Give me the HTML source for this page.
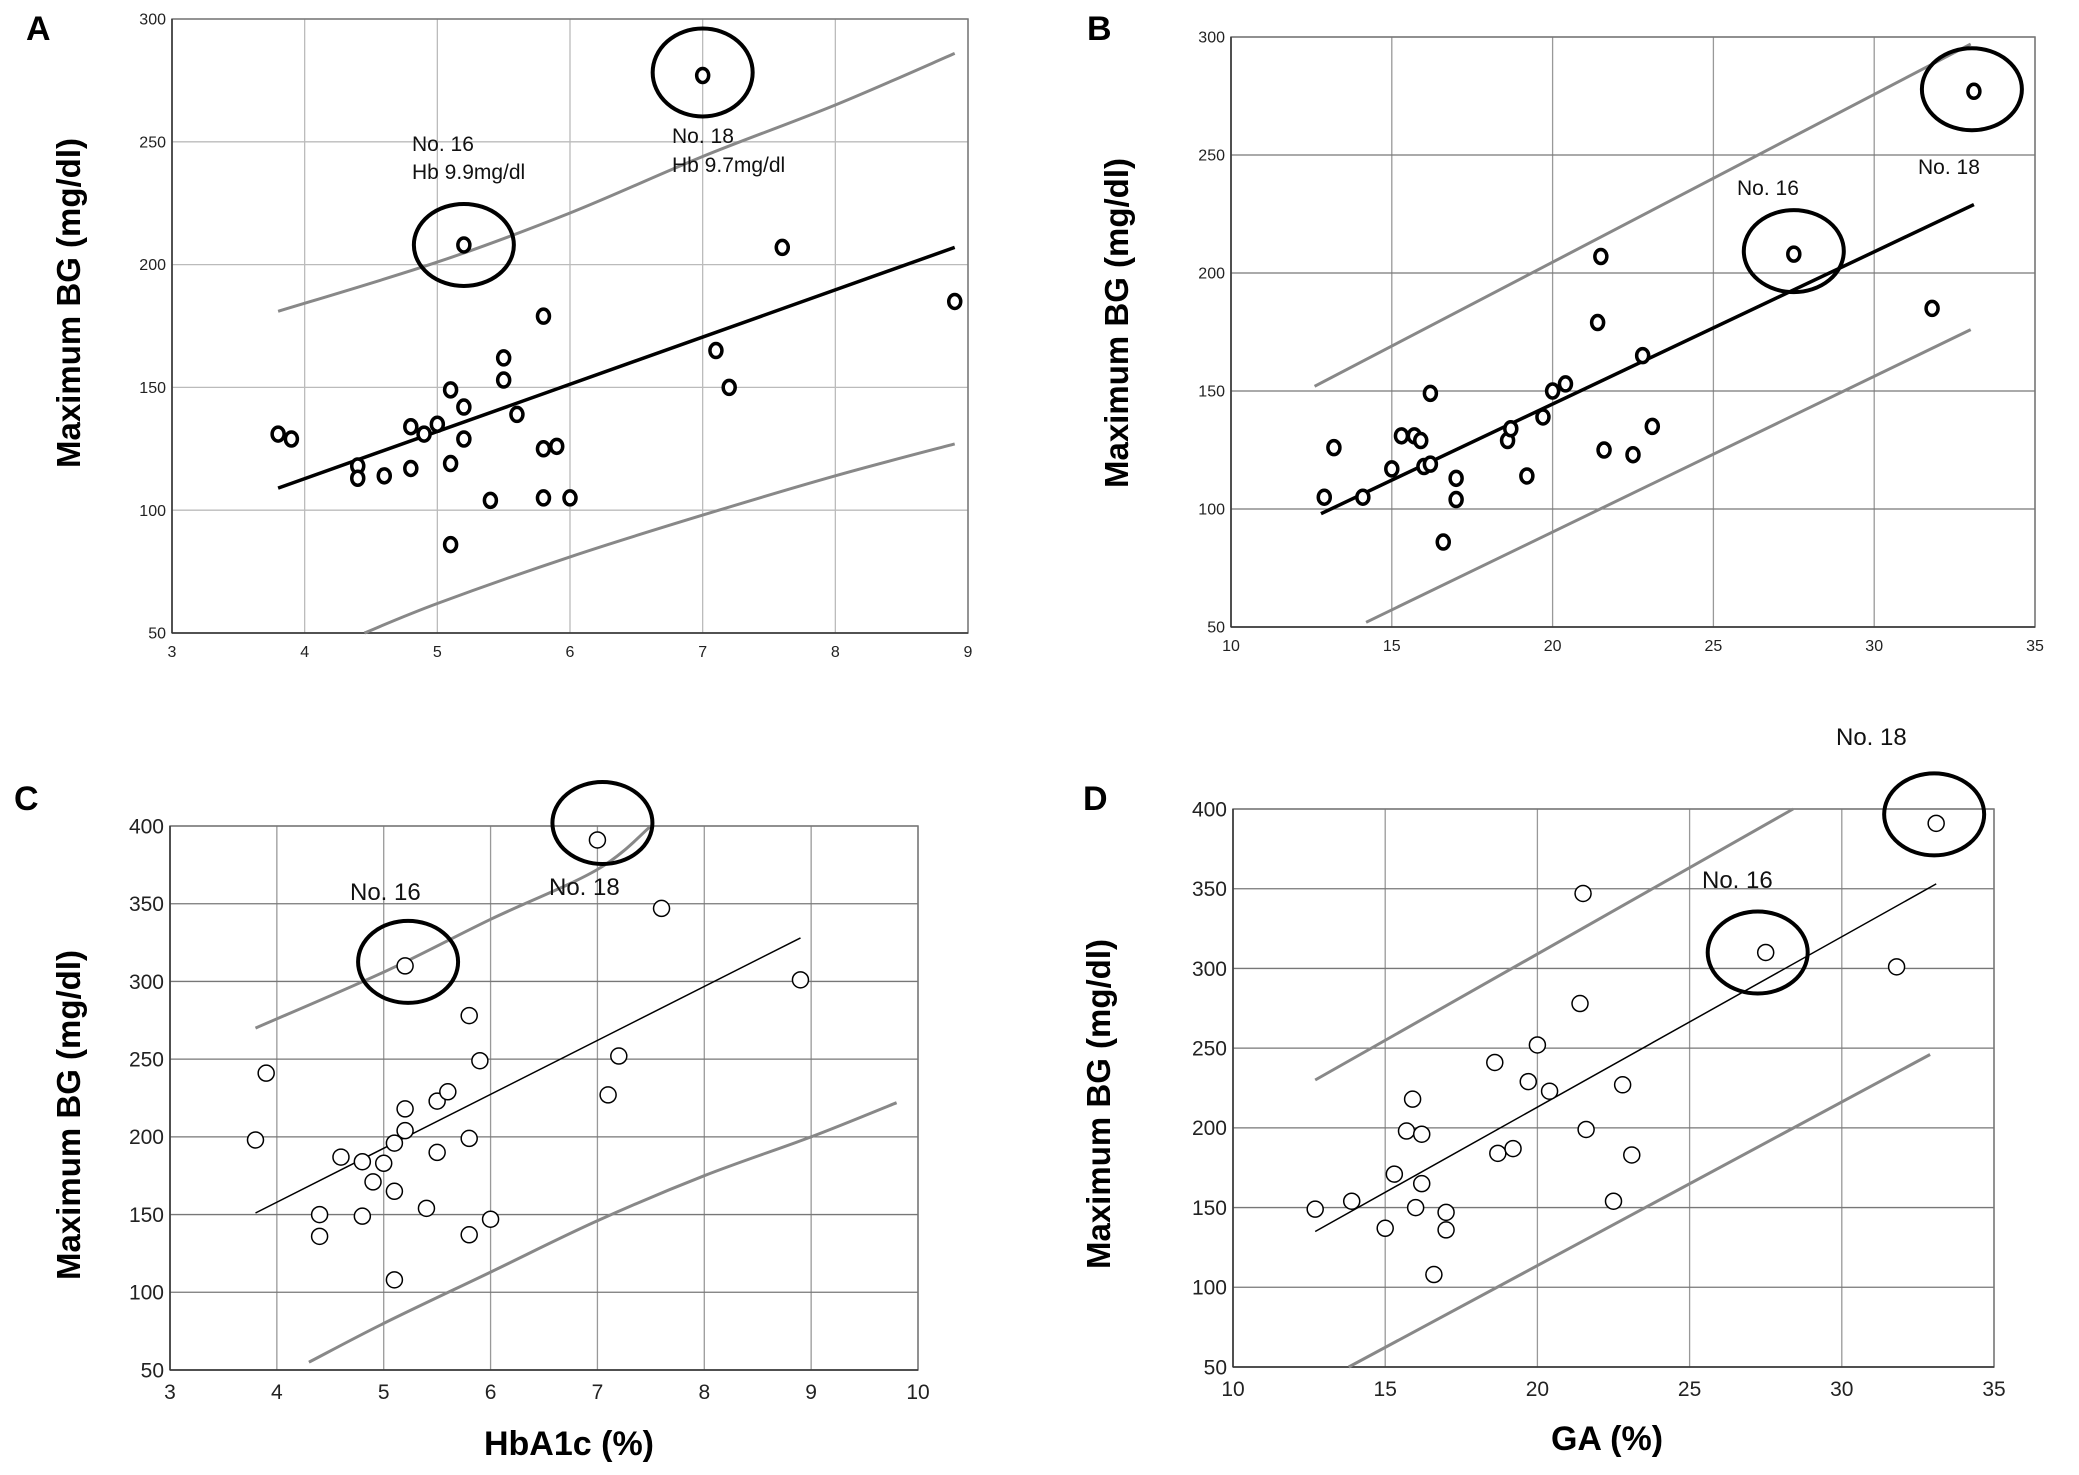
<!DOCTYPE html>
<html><head><meta charset="utf-8"><style>
html,body{margin:0;padding:0;background:#fff;}
svg{display:block;font-family:"Liberation Sans",sans-serif;}
</style></head><body>
<svg id="fig" width="2079" height="1475" viewBox="0 0 2079 1475" xmlns="http://www.w3.org/2000/svg"></svg>
<script>
// Panel A: HbA1c vs max BG (Hb-corrected)
const aX = [3.8,3.9,4.4,4.4,4.6,4.8,4.8,4.9,5.0,5.1,5.1,5.1,5.2,5.2,5.2,5.4,5.5,5.5,5.6,5.8,5.8,5.8,5.9,6.0,7.0,7.1,7.2,7.6,8.9];
const aY = [131,129,118,113,114,134,117,131,135,149,119,86,142,129,208,104,162,153,139,179,125,105,126,105,277,165,150,207,185];
const aFit = [[3.8,109],[8.9,207]];
const aUpper = [[3.8,181],[5,201],[6,221],[7,244],[8,265],[8.9,286]];
const aLower = [[4.45,50],[5,62],[6,81],[7,98],[8,114],[8.9,127]];
const aXTicks = [3,4,5,6,7,8,9];
const aYTicks = [50,100,150,200,250,300];
// Panel B: GA vs max BG
const bX = [12.9,13.2,14.1,15.0,15.3,15.7,15.9,16.0,16.2,16.2,16.6,17.0,17.0,18.6,18.7,19.2,19.7,20.0,20.4,21.4,21.5,21.6,22.5,22.8,23.1,27.5,31.8,33.1];
const bY = [105,126,105,117,131,131,129,118,119,149,86,113,104,129,134,114,139,150,153,179,207,125,123,165,135,208,185,277];
const bFit = [[12.8,98],[33.1,229]];
const bUpper = [[12.6,152],[33,297]];
const bLower = [[14.2,52],[33,176]];
const bXTicks = [10,15,20,25,30,35];
const bYTicks = [50,100,150,200,250,300];
// Panel C: HbA1c vs max BG
const cX = [3.8,3.9,4.4,4.4,4.6,4.8,4.8,4.9,5.0,5.1,5.1,5.1,5.2,5.2,5.2,5.4,5.5,5.5,5.6,5.8,5.8,5.8,5.9,6.0,7.0,7.1,7.2,7.6,8.9];
const cY = [198,241,150,136,187,184,149,171,183,196,165,108,218,204,310,154,223,190,229,278,199,137,249,147,391,227,252,347,301];
const cFit = [[3.8,151],[8.9,328]];
const cUpper = [[3.8,270],[5,306],[6,340],[7,372],[7.5,400]];
const cLower = [[4.3,55],[5,80],[6,113],[7,146],[8,175],[9,200],[9.8,222]];
const cXTicks = [3,4,5,6,7,8,9,10];
const cYTicks = [50,100,150,200,250,300,350,400];
// Panel D: GA vs max BG
const dX = [12.7,13.9,15.0,15.3,15.7,15.9,16.0,16.2,16.2,16.6,17.0,17.0,18.6,18.7,19.2,19.7,20.0,20.4,21.4,21.5,21.6,22.5,22.8,23.1,27.5,31.8,33.1];
const dY = [149,154,137,171,198,218,150,196,165,108,147,136,241,184,187,229,252,223,278,347,199,154,227,183,310,301,391];
const dFit = [[12.7,135],[33.1,353]];
const dUpper = [[12.7,230],[28.4,400]];
const dLower = [[13.8,50],[32.9,246]];
const dXTicks = [10,15,20,25,30,35];
const dYTicks = [50,100,150,200,250,300,350,400];

const NS = "http://www.w3.org/2000/svg";
const svg = document.getElementById('fig');
function mk(tag, attrs, parent){ const e=document.createElementNS(NS,tag); for(const k in attrs) e.setAttribute(k,attrs[k]); (parent||svg).appendChild(e); return e; }

function smoothPath(P){
  if(P.length<3) return P.map((p,i)=>(i?'L':'M')+p[0].toFixed(1)+' '+p[1].toFixed(1)).join(' ');
  let d='M'+P[0][0].toFixed(1)+' '+P[0][1].toFixed(1);
  for(let i=0;i<P.length-1;i++){
    const p0=P[Math.max(0,i-1)],p1=P[i],p2=P[i+1],p3=P[Math.min(P.length-1,i+2)];
    const c1=[p1[0]+(p2[0]-p0[0])/6,p1[1]+(p2[1]-p0[1])/6];
    const c2=[p2[0]-(p3[0]-p1[0])/6,p2[1]-(p3[1]-p1[1])/6];
    d+=` C${c1[0].toFixed(1)} ${c1[1].toFixed(1)} ${c2[0].toFixed(1)} ${c2[1].toFixed(1)} ${p2[0].toFixed(1)} ${p2[1].toFixed(1)}`;
  }
  return d;
}

function panel(cfg){
  const g = mk('g',{});
  
  
  const sx = v => cfg.x0 + (v-cfg.xmin)/(cfg.xmax-cfg.xmin)*(cfg.x1-cfg.x0);
  const sy = v => cfg.y0 + (v-cfg.ymin)/(cfg.ymax-cfg.ymin)*(cfg.y1-cfg.y0);
  cfg.xt.forEach(t=>{
    const l = mk('line',{x1:sx(t),x2:sx(t),y1:cfg.y1,y2:cfg.y0,stroke:cfg.gridV,'stroke-width':1.3},g);
    
    
    const tx = mk('text',{x:sx(t),y:cfg.y0+cfg.fs+8,'font-size':cfg.fs,'text-anchor':'middle',fill:'#222'},g);
    tx.textContent = t;
    
    
  });
  cfg.yt.forEach(t=>{
    const l = mk('line',{x1:cfg.x0,x2:cfg.x1,y1:sy(t),y2:sy(t),stroke:cfg.gridH,'stroke-width':1.3},g);
    
    
    const tx = mk('text',{x:cfg.x0-6,y:sy(t)+cfg.fs*0.35,'font-size':cfg.fs,'text-anchor':'end',fill:'#222'},g);
    tx.textContent = t;
    
    
  });
  const fr = mk('rect',{x:cfg.x0,y:cfg.y1,width:cfg.x1-cfg.x0,height:cfg.y0-cfg.y1,fill:'none',stroke:'#777','stroke-width':1.5},g);
  
  
  mk('line',{x1:cfg.x0,x2:cfg.x0,y1:cfg.y1,y2:cfg.y0,stroke:'#333','stroke-width':1.5},g);
  mk('line',{x1:cfg.x0,x2:cfg.x1,y1:cfg.y0,y2:cfg.y0,stroke:'#333','stroke-width':1.5},g);
  const px = pts => pts.map(p=>[sx(p[0]),sy(p[1])]);
  const up = mk('path',{d:smoothPath(px(cfg.upper)),fill:'none',stroke:'#888','stroke-width':3},g);
  
  
  const lo = mk('path',{d:smoothPath(px(cfg.lower)),fill:'none',stroke:'#888','stroke-width':3},g);
  
  
  const fit = mk('path',{d:smoothPath(px(cfg.fit)),fill:'none',stroke:'#000','stroke-width':cfg.fitW},g);
  
  
  cfg.xs.forEach((v,i)=>{
    const c = mk('ellipse',{cx:sx(v),cy:sy(cfg.ys[i]),rx:cfg.mr,ry:cfg.mry,fill:'#fff',stroke:'#000','stroke-width':cfg.mw},g);
    
    
  });
  cfg.rings.forEach(r=>{
    const c = mk('ellipse',{cx:sx(r[0])+r[2],cy:sy(r[1])+r[3],rx:r[4],ry:r[5],fill:'none',stroke:'#000','stroke-width':4},g);
    
    
  });
  cfg.labels.forEach(l=>{
    const t = mk('text',{x:l[0],y:l[1],'font-size':l[3],fill:'#111'},g);
    t.textContent = l[2];
    
    
  });
  const pl = mk('text',{x:cfg.letter[0],y:cfg.letter[1],'font-size':34,'font-weight':'bold'},g);
  pl.textContent = cfg.id;
  
  
  const yt = mk('text',{x:0,y:0,'font-size':33,'font-weight':'bold','text-anchor':'middle',transform:`translate(${cfg.ytitle[0]},${cfg.ytitle[1]}) rotate(-90)`},g);
  yt.textContent = 'Maximum BG (mg/dl)';
  
  
  if(cfg.xtitle){
    const xt = mk('text',{x:cfg.xtitle[0],y:cfg.xtitle[1],'font-size':34,'font-weight':'bold','text-anchor':'middle'},g);
    xt.textContent = cfg.xtitle[2];
    
    
  }
}

panel({id:'A',x0:172,x1:968,y0:633,y1:19,xmin:3,xmax:9,ymin:50,ymax:300,xt:aXTicks,yt:aYTicks,
  xs:aX,ys:aY,fit:aFit,upper:aUpper,lower:aLower,fs:16,gridV:'#bbb',gridH:'#bbb',fitW:3.5,mr:6,mry:7,mw:3.5,
  rings:[[5.2,208,0,0,50,41],[7.0,277,0,-3,50,44]],
  labels:[[412,151,'No. 16',21],[412,179,'Hb 9.9mg/dl',21],[672,143,'No. 18',21],[672,172,'Hb 9.7mg/dl',21]],
  letter:[26,40],ytitle:[80,303]});
panel({id:'B',x0:1231,x1:2035,y0:627,y1:37,xmin:10,xmax:35,ymin:50,ymax:300,xt:bXTicks,yt:bYTicks,
  xs:bX,ys:bY,fit:bFit,upper:bUpper,lower:bLower,fs:16,gridV:'#999',gridH:'#777',fitW:3.5,mr:6,mry:7,mw:3.5,
  rings:[[27.5,208,0,-3,50,41],[33.1,277,-2,-2,50,41]],
  labels:[[1737,195,'No. 16',21],[1918,174,'No. 18',21]],
  letter:[1087,40],ytitle:[1128,323]});
panel({id:'C',x0:170,x1:918,y0:1370,y1:826,xmin:3,xmax:10,ymin:50,ymax:400,xt:cXTicks,yt:cYTicks,
  xs:cX,ys:cY,fit:cFit,upper:cUpper,lower:cLower,fs:21,gridV:'#999',gridH:'#777',fitW:1.5,mr:8,mry:8,mw:1.5,
  rings:[[5.2,310,3,-4,50,41],[7.0,391,5,-17,50,41]],
  labels:[[350,900,'No. 16',24],[549,895,'No. 18',24]],
  letter:[14,810],ytitle:[80,1115],xtitle:[569,1455,'HbA1c (%)']});
panel({id:'D',x0:1233,x1:1994,y0:1367,y1:809,xmin:10,xmax:35,ymin:50,ymax:400,xt:dXTicks,yt:dYTicks,
  xs:dX,ys:dY,fit:dFit,upper:dUpper,lower:dLower,fs:21,gridV:'#999',gridH:'#777',fitW:1.5,mr:8,mry:8,mw:1.5,
  rings:[[27.5,310,-8,0,50,41],[33.1,391,-2,-9,50,41]],
  labels:[[1702,888,'No. 16',24],[1836,745,'No. 18',24]],
  letter:[1083,810],ytitle:[1110,1104],xtitle:[1607,1450,'GA (%)']});
</script>
</body></html>
